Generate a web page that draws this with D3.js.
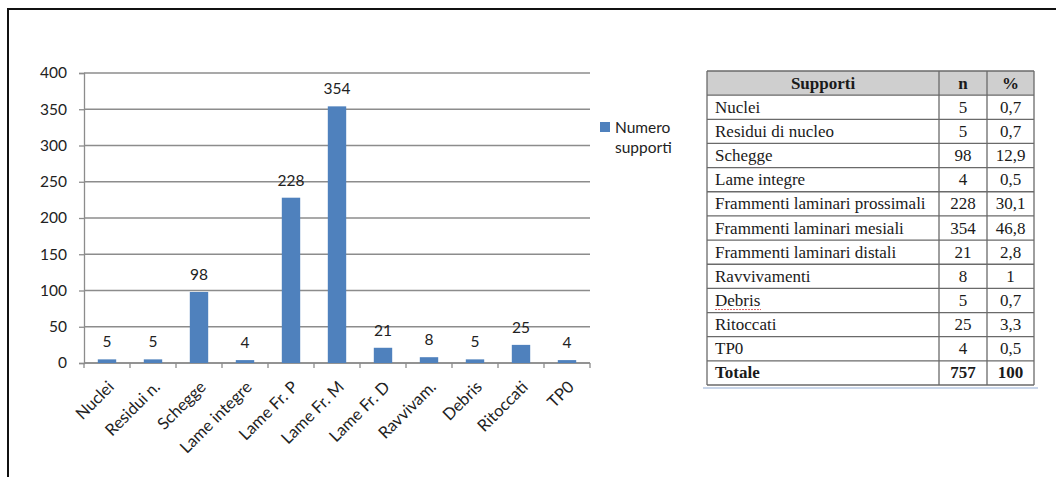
<!DOCTYPE html>
<html>
<head>
<meta charset="utf-8">
<script src="https://cdn.jsdelivr.net/npm/d3@7"></script>
<style>
    body { margin: 0; background: #fff; }
    svg { display: block; }
</style>
</head>
<body>
<svg id="scene"></svg>
<script>
// chart data
let categories = ["Nuclei", "Residui n.", "Schegge", "Lame integre", "Lame Fr. P", "Lame Fr. M",
    "Lame Fr. D", "Ravvivam.", "Debris", "Ritoccati", "TP0"];
let values = [5, 5, 98, 4, 228, 354, 21, 8, 5, 25, 4];
let yTicks = [0, 50, 100, 150, 200, 250, 300, 350, 400];
let seriesName = ["Numero", "supporti"];

// table data
let tableHeader = ["Supporti", "n", "%"];
let tableNames = ["Nuclei", "Residui di nucleo", "Schegge", "Lame integre", "Frammenti laminari prossimali",
    "Frammenti laminari mesiali", "Frammenti laminari distali", "Ravvivamenti", "Debris", "Ritoccati", "TP0"];
let tableN = [5, 5, 98, 4, 228, 354, 21, 8, 5, 25, 4];
let tablePct = ["0,7", "0,7", "12,9", "0,5", "30,1", "46,8", "2,8", "1", "0,7", "3,3", "0,5"];
let tableTotal = ["Totale", "757", "100"];

function init() {
    let width = 1056,
        height = 477,
        svg = d3.select('#scene').attr("width", width).attr("height", height);

    let chartFont = "Lato, 'Open Sans', sans-serif";
    let tableFont = "'Liberation Serif', 'DejaVu Serif', serif";

    // frame
    svg.append('line').attr('x1', 7).attr('x2', width).attr('y1', 9).attr('y2', 9)
        .attr('stroke', '#111').attr('stroke-width', 2);
    svg.append('line').attr('x1', 8).attr('x2', 8).attr('y1', 8).attr('y2', height)
        .attr('stroke', '#111').attr('stroke-width', 2);

    let xScale = d3.scaleBand().domain(categories).range([84, 590]).paddingInner(0.6).paddingOuter(0.3);
    let yScale = d3.scaleLinear().domain([0, 400]).range([363, 73]);

    // gridlines
    svg.selectAll('line.grid')
        .data(yTicks)
        .enter()
        .append('line')
        .attr('class', 'grid')
        .attr('x1', 84)
        .attr('x2', 590)
        .attr('y1', d => yScale(d))
        .attr('y2', d => yScale(d))
        .attr('stroke', '#8c8c8c')
        .attr('stroke-width', 1.3);

    // y axis
    let yAxis = svg.append('g')
        .attr('transform', 'translate(84,0)')
        .call(d3.axisLeft(yScale).tickValues(yTicks).tickSize(5).tickPadding(12));
    yAxis.select('.domain').attr('stroke', '#8c8c8c').attr('stroke-width', 1.3);
    yAxis.selectAll('.tick line').attr('stroke', '#8c8c8c').attr('stroke-width', 1.3);
    yAxis.selectAll('.tick text')
        .attr('font-family', chartFont)
        .attr('font-size', '15.5px')
        .attr('fill', '#222');

    // x axis ticks at category boundaries
    let bounds = d3.range(categories.length + 1).map(i => 84 + i * (506 / categories.length));
    svg.append('line').attr('x1', 84).attr('x2', 590)
        .attr('y1', yScale(0)).attr('y2', yScale(0))
        .attr('stroke', '#8c8c8c').attr('stroke-width', 1.3);
    svg.selectAll('line.xtick')
        .data(bounds)
        .enter()
        .append('line')
        .attr('class', 'xtick')
        .attr('x1', d => d).attr('x2', d => d)
        .attr('y1', yScale(0)).attr('y2', yScale(0) + 5)
        .attr('stroke', '#8c8c8c').attr('stroke-width', 1.3);

    // bars
    svg.selectAll('rect.bar')
        .data(values)
        .enter()
        .append('rect')
        .attr('class', 'bar')
        .attr('x', (d, i) => xScale(categories[i]))
        .attr('width', xScale.bandwidth())
        .attr('y', d => yScale(d))
        .attr('height', d => yScale(0) - yScale(d))
        .attr('fill', '#4f81bd');

    // value labels
    svg.selectAll('text.val')
        .data(values)
        .enter()
        .append('text')
        .attr('class', 'val')
        .text(d => d)
        .attr('x', (d, i) => xScale(categories[i]) + xScale.bandwidth() / 2)
        .attr('y', d => yScale(d) - 12)
        .attr('text-anchor', 'middle')
        .attr('font-family', chartFont)
        .attr('font-size', '15.5px')
        .attr('fill', '#222');

    // category labels
    svg.selectAll('text.cat')
        .data(categories)
        .enter()
        .append('text')
        .attr('class', 'cat')
        .text(d => d)
        .attr('transform', d => `translate(${xScale(d) + xScale.bandwidth() / 2 + 8}, ${yScale(0) + 25}) rotate(-45)`)
        .attr('text-anchor', 'end')
        .attr('font-family', chartFont)
        .attr('font-size', '16.5px')
        .attr('fill', '#222');

    // legend
    svg.append('rect').attr('x', 600).attr('y', 122).attr('width', 10).attr('height', 10).attr('fill', '#4f81bd');
    svg.selectAll('text.leg')
        .data(seriesName)
        .enter()
        .append('text')
        .attr('class', 'leg')
        .text(d => d)
        .attr('x', 615)
        .attr('y', (d, i) => 133 + i * 20)
        .attr('font-family', chartFont)
        .attr('font-size', '15.5px')
        .attr('fill', '#222');

    // table
    let rows = [tableHeader].concat(tableNames.map((d, i) => [d, String(tableN[i]), tablePct[i]]), [tableTotal]);
    let colX = [707, 939, 987, 1034];
    let rowY = d3.scaleLinear().domain([0, rows.length]).range([71, 385]);
    let rowH = rowY(1) - rowY(0);

    // shadow under the table
    svg.append('line').attr('x1', 703).attr('x2', 1038).attr('y1', 388).attr('y2', 388)
        .attr('stroke', '#c9d6ea').attr('stroke-width', 2);

    svg.append('rect')
        .attr('x', colX[0]).attr('y', rowY(0))
        .attr('width', colX[3] - colX[0]).attr('height', rowH)
        .attr('fill', '#cfcfcf');

    svg.selectAll('line.hrow')
        .data(d3.range(rows.length + 1))
        .enter()
        .append('line')
        .attr('class', 'hrow')
        .attr('x1', colX[0]).attr('x2', colX[3])
        .attr('y1', d => rowY(d)).attr('y2', d => rowY(d))
        .attr('stroke', '#6a6a6a').attr('stroke-width', 1.3);
    svg.selectAll('line.vcol')
        .data(colX)
        .enter()
        .append('line')
        .attr('class', 'vcol')
        .attr('x1', d => d).attr('x2', d => d)
        .attr('y1', rowY(0)).attr('y2', rowY(rows.length))
        .attr('stroke', '#6a6a6a').attr('stroke-width', 1.3);

    rows.forEach((r, ri) => {
        let bold = ri === 0 || ri === rows.length - 1;
        r.forEach((c, ci) => {
            let x = ci === 0 ? (ri === 0 ? (colX[0] + colX[1]) / 2 : colX[0] + 8) : (colX[ci] + colX[ci + 1]) / 2;
            svg.append('text')
                .text(c)
                .attr('x', x)
                .attr('y', rowY(ri) + rowH / 2 + 5.5)
                .attr('text-anchor', ci === 0 && ri !== 0 ? 'start' : 'middle')
                .attr('font-family', tableFont)
                .attr('font-size', '17px')
                .attr('font-weight', bold ? 'bold' : 'normal')
                .attr('fill', '#1a1a1a');
        });
    });

    // spellcheck underline on "Debris"
    let debrisRow = tableNames.indexOf("Debris") + 1;
    svg.append('line')
        .attr('x1', colX[0] + 8).attr('x2', colX[0] + 54)
        .attr('y1', rowY(debrisRow) + rowH - 3).attr('y2', rowY(debrisRow) + rowH - 3)
        .attr('stroke', '#e06060').attr('stroke-width', 1).attr('stroke-dasharray', '2,1');
}

onload = function () {
    init();
}
</script>
</body>
</html>
